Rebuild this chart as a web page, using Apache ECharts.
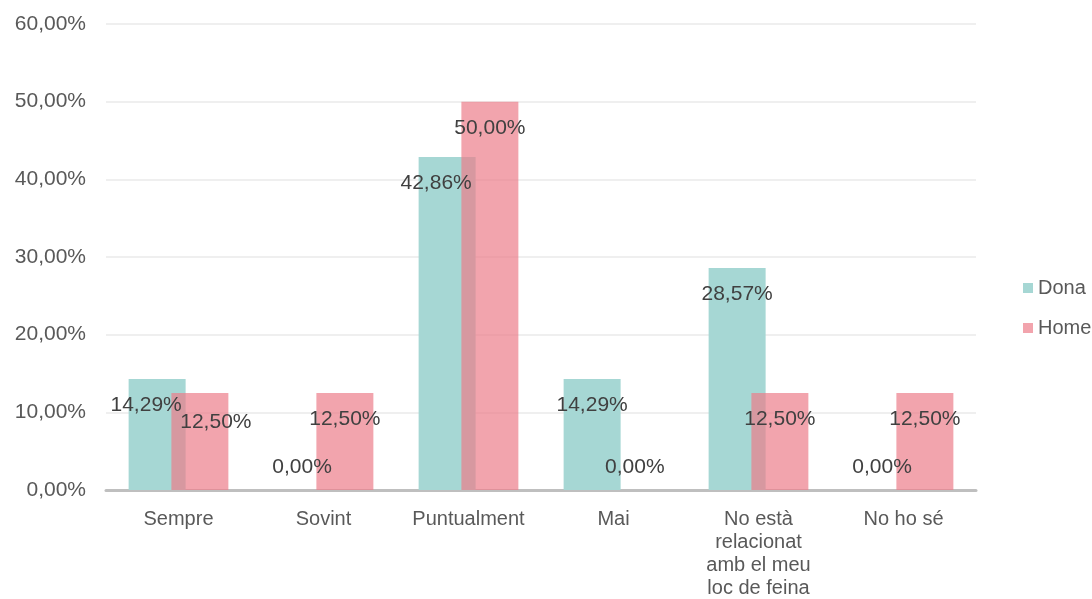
<!DOCTYPE html>
<html>
<head>
<meta charset="utf-8">
<style>
  html, body { margin: 0; padding: 0; background: #ffffff; }
  #chart { width: 1092px; height: 599px; }
</style>
<script src="https://cdn.jsdelivr.net/npm/echarts@6/dist/echarts.min.js"></script>
</head>
<body>
<div id="chart"></div>
<script>
// Survey answers, share of respondents by gender
const categories = ['Sempre', 'Sovint', 'Puntualment', 'Mai', 'No està\nrelacionat\namb el meu\nloc de feina', 'No ho sé'];
const seriesNames = ['Dona', 'Home'];
const donaValues = [14.29, 0, 42.86, 14.29, 28.57, 0];
const homeValues = [12.5, 12.5, 50, 0, 12.5, 12.5];
const yMin = 0, yMax = 60, yStep = 10;

const FONT = '"Liberation Sans", Arial, sans-serif';

// Catalan style percentage: 12,50%
function pct(v) { return v.toFixed(2).replace('.', ',') + '%'; }

// Small sideways nudges where neighbouring labels would collide
const labelNudge = {
  Dona: { 0: [-11, 0], 2: [-11, 0] },
  Home: { 0: [16, 3] }
};

function buildItems(values, name) {
  return values.map((v, i) => {
    const nudge = (labelNudge[name] && labelNudge[name][i]) || [0, 0];
    const label = v === 0
      ? { position: 'insideBottom', distance: 12, offset: nudge }
      : { position: 'insideTop', distance: 16, offset: nudge };
    return { value: v, label: label };
  });
}

const valueLabel = {
  show: true,
  formatter: p => pct(p.value),
  color: '#404040',
  fontFamily: FONT,
  fontSize: 21
};

const chart = echarts.init(document.getElementById('chart'), null, { renderer: 'canvas' });
chart.setOption({
  animation: false,
  backgroundColor: '#ffffff',
  grid: { left: 106, right: 116, top: 24, bottom: 109, containLabel: false, outerBoundsMode: 'none' },
  legend: {
    orient: 'vertical',
    left: 1018,
    top: 273,
    itemWidth: 10,
    itemHeight: 10,
    itemGap: 20,
    icon: 'rect',
    textStyle: { color: '#595959', fontFamily: FONT, fontSize: 20, lineHeight: 20 },
    data: seriesNames
  },
  xAxis: {
    type: 'category',
    data: categories,
    axisLine: { show: true, lineStyle: { color: '#bfbfbf', width: 3 } },
    axisTick: { show: false },
    axisLabel: {
      color: '#595959',
      fontFamily: FONT,
      fontSize: 20,
      lineHeight: 23,
      margin: 18,
      interval: 0
    }
  },
  yAxis: {
    type: 'value',
    min: yMin,
    max: yMax,
    interval: yStep,
    axisLine: { show: false },
    axisTick: { show: false },
    splitLine: { lineStyle: { color: '#efefef', width: 2 } },
    axisLabel: {
      formatter: v => pct(v),
      color: '#595959',
      fontFamily: FONT,
      fontSize: 21,
      margin: 20
    }
  },
  series: [
    {
      name: seriesNames[0],
      type: 'bar',
      data: buildItems(donaValues, 'Dona'),
      barWidth: 57,
      barGap: '-25%',
      itemStyle: { color: '#a6d7d4' },
      label: valueLabel,
      z: 2
    },
    {
      name: seriesNames[1],
      type: 'bar',
      data: buildItems(homeValues, 'Home'),
      barWidth: 57,
      barGap: '-25%',
      itemStyle: { color: 'rgba(236,125,138,0.7)' },
      label: valueLabel,
      z: 2
    }
  ]
});
</script>
</body>
</html>
